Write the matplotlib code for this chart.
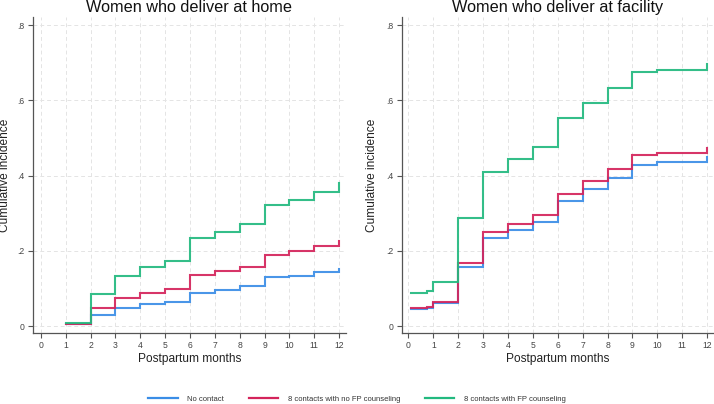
import matplotlib
matplotlib.use("Agg")
import matplotlib.pyplot as plt
from matplotlib.lines import Line2D

plt.rcParams['font.family'] = ['Liberation Sans', 'DejaVu Sans']

# ---- data ----
series_names = ["No contact", "8 contacts with no FP counseling", "8 contacts with FP counseling"]
series_colors = ["#3a8de6", "#d4245b", "#22b97f"]

months_home = [1, 2, 3, 4, 5, 6, 7, 8, 9, 10, 11, 12]
home_no_contact = [0.004, 0.030, 0.049, 0.058, 0.065, 0.089, 0.096, 0.105, 0.129, 0.134, 0.143, 0.152]
home_no_fp = [0.004, 0.048, 0.074, 0.089, 0.099, 0.135, 0.145, 0.158, 0.190, 0.200, 0.212, 0.227]
home_fp = [0.007, 0.085, 0.133, 0.158, 0.174, 0.234, 0.250, 0.272, 0.322, 0.335, 0.356, 0.379]

months_fac = [0.1, 0.75, 1, 2, 3, 4, 5, 6, 7, 8, 9, 10, 12]
fac_no_contact = [0.046, 0.048, 0.062, 0.156, 0.233, 0.255, 0.277, 0.333, 0.363, 0.393, 0.429, 0.435, 0.449]
fac_no_fp = [0.048, 0.051, 0.065, 0.167, 0.249, 0.272, 0.296, 0.352, 0.385, 0.417, 0.454, 0.459, 0.474]
fac_fp = [0.089, 0.093, 0.118, 0.286, 0.410, 0.443, 0.475, 0.552, 0.594, 0.632, 0.674, 0.680, 0.696]

titles = ["Women who deliver at home", "Women who deliver at facility"]
xticks = list(range(0, 13))
yticks = [0, 0.2, 0.4, 0.6, 0.8]
yticklabels = ["0", ".2", ".4", ".6", ".8"]

W, H = 714, 404
fig = plt.figure(figsize=(W / 100, H / 100), dpi=100)

def px_axes(x0, x1, y0, y1):
    return fig.add_axes([x0 / W, 1 - y1 / H, (x1 - x0) / W, (y1 - y0) / H])

ax1 = px_axes(33, 346, 17, 333)
ax2 = px_axes(402, 714, 17, 333)

panels = [
    (ax1, months_home, [home_no_contact, home_no_fp, home_fp], (-0.32, 12.28)),
    (ax2, months_fac, [fac_no_contact, fac_no_fp, fac_fp], (-0.26, 12.28)),
]

for i, (ax, xs, ys, xl) in enumerate(panels):
    for y, c in zip(ys, series_colors):
        ax.plot(xs, y, drawstyle='steps-post', color=c, lw=1.5, alpha=0.92,
                solid_joinstyle='miter')
    ax.set_xlim(*xl)
    ax.set_ylim(-0.0186, 0.8213)
    ax.set_xticks(xticks)
    ax.set_xticklabels([str(t) for t in xticks])
    ax.set_yticks(yticks)
    ax.set_yticklabels(yticklabels)
    ax.grid(True, color="#e4e4e4", lw=0.7, ls=(0, (4, 3)))
    ax.set_axisbelow(True)
    for s in ['top', 'right']:
        ax.spines[s].set_visible(False)
    for s in ['left', 'bottom']:
        ax.spines[s].set_color("#555555")
        ax.spines[s].set_linewidth(0.9)
    ax.tick_params(axis='both', direction='out', length=3.5, width=0.8,
                   color="#555555", labelsize=6.2, labelcolor="#444444", pad=2.5)
    ax.set_xlabel("Postpartum months", fontsize=8.6, color="#222222")
    ax.set_ylabel("Cumulative incidence", fontsize=8.6, color="#222222")
    ax.xaxis.set_label_coords(0.5, -0.063)
    ax.yaxis.set_label_coords(-0.071 if i == 0 else -0.076, 0.5)
    ax.text(0.5, 1.015, titles[i], transform=ax.transAxes, ha='center',
            va='baseline', fontsize=11.7, color="#111111")

handles = [Line2D([0], [0], color=c, lw=1.6) for c in series_colors]
fig.legend(handles, series_names, loc='center', bbox_to_anchor=(0.5, 0.012),
           ncol=3, frameon=False, fontsize=5.5, handlelength=3.8,
           handletextpad=1.3, columnspacing=3.2, labelcolor="#333333")

fig.savefig("out.png", dpi=100)
